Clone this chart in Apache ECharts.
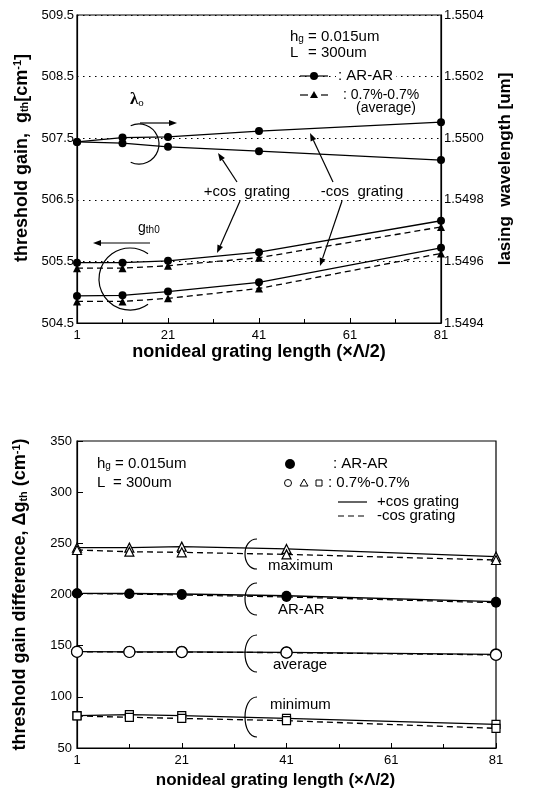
<!DOCTYPE html>
<html><head><meta charset="utf-8">
<script src="https://cdn.jsdelivr.net/npm/echarts@6/dist/echarts.min.js"></script>
<style>html,body{margin:0;padding:0;background:#fff}#c{width:547px;height:792px}</style>
</head><body><div id="c"></div>
<script>
// ---------- data ----------
const xs = [1, 11, 21, 41, 81];
// top panel: threshold gain g_th (cm^-1)
const gainPlusAR  = [505.48, 505.48, 505.51, 505.65, 506.16];
const gainPlus07  = [505.39, 505.39, 505.43, 505.56, 506.06];
const gainMinusAR = [504.94, 504.95, 505.01, 505.16, 505.72];
const gainMinus07 = [504.85, 504.85, 504.90, 505.06, 505.63];
// top panel: lasing wavelength (um)
const lambdaMinusCos = [1.549988, 1.550002, 1.550004, 1.550023, 1.550052];
const lambdaPlusCos  = [1.549988, 1.549984, 1.549972, 1.549958, 1.549929];
// bottom panel: threshold gain difference (cm^-1)
const maxPlus  = [245.8, 245.8, 246.8, 244.5, 237.0];
const maxMinus = [243.5, 241.8, 241.2, 239.2, 233.7];
const arPlus   = [201.1, 201.0, 200.5, 198.8, 193.0];
const arMinus  = [201.0, 200.5, 199.5, 197.6, 192.0];
const avgPlus  = [144.1, 144.0, 144.0, 143.5, 141.5];
const avgMinus = [144.0, 143.8, 143.7, 143.2, 141.0];
const minPlus  = [81.6, 82.6, 81.6, 79.0, 73.0];
const minMinus = [81.3, 80.0, 78.9, 76.7, 69.2];
// axis ranges / tick labels
const xRange = [1, 81, 20];
const gainRange = [504.5, 509.5, 1];
const lambdaRange = [1.5494, 1.5504, 0.0002];
const diffRange = [50, 350, 50];

// ---------- helpers ----------
const FONT = '"Liberation Sans", Arial, Helvetica, sans-serif';
const pair = v => xs.map((x, i) => [x, v[i]]);
function txt(x, y, text, size, extra) {
  return {type: 'text', x: x, y: y, z: 100, style: Object.assign({
    text: text, font: size + 'px ' + FONT, fill: '#000',
    textAlign: 'left', textVerticalAlign: 'middle', align: 'left', verticalAlign: 'middle'
  }, extra || {})};
}
function ln(x1, y1, x2, y2, dash) {
  return {type: 'line', z: 100, shape: {x1, y1, x2, y2},
    style: {stroke: '#000', lineWidth: 1.2, lineDash: dash || null}};
}
function arrow(x1, y1, x2, y2) {
  const a = Math.atan2(y2 - y1, x2 - x1), L = 8, W = 3;
  const bx = x2 - L * Math.cos(a), by = y2 - L * Math.sin(a);
  const px = -Math.sin(a) * W, py = Math.cos(a) * W;
  return [ln(x1, y1, bx, by), {type: 'polygon', z: 100,
    shape: {points: [[x2, y2], [bx + px, by + py], [bx - px, by - py]]}, style: {fill: '#000'}}];
}
function brace(xr, yt, yb) {
  return {type: 'bezierCurve', z: 100,
    shape: {x1: xr, y1: yt, x2: xr, y2: yb, cpx1: xr - 16, cpy1: yt, cpx2: xr - 16, cpy2: yb},
    style: {stroke: '#000', lineWidth: 1.2, fill: null}};
}
const subRich = {s: {fontSize: 10, fontFamily: FONT, verticalAlign: 'bottom', lineHeight: 8}};

function ser(name, g, yi, data, symbol, size, dashed, open) {
  return {
    name: name, type: 'line', xAxisIndex: g, yAxisIndex: yi, data: pair(data),
    symbol: symbol, symbolSize: size, showSymbol: true,
    lineStyle: {color: '#000', width: 1.3, type: dashed ? [6, 4] : 'solid'},
    itemStyle: open ? {color: '#fff', borderColor: '#000', borderWidth: 1.2} : {color: '#000', borderColor: '#000', borderWidth: 0},
    animation: false, z: 3
  };
}

const axisTitleStyle = {color: '#000', fontWeight: 'bold', fontSize: 18, fontFamily: FONT,
  rich: {sub: {fontSize: 11, fontWeight: 'bold', fontFamily: FONT, verticalAlign: 'bottom', lineHeight: 10},
         sup: {fontSize: 11, fontWeight: 'bold', fontFamily: FONT, verticalAlign: 'top', lineHeight: 10}}};
const lblStyle = {color: '#000', fontSize: 13, fontFamily: FONT};
function xAx(gi, gap) {
  return {gridIndex: gi, type: 'value', min: xRange[0], max: xRange[1], interval: xRange[2],
    axisLine: {lineStyle: {color: '#000', width: 1.2}},
    axisTick: {inside: true, length: 5, lineStyle: {color: '#000'}},
    minorTick: {show: true, splitNumber: 2, length: 4, lineStyle: {color: '#000'}},
    splitLine: {show: false},
    axisLabel: Object.assign({margin: 6}, lblStyle),
    name: 'nonideal grating length (\u00d7\u039b/2)', nameLocation: 'middle', nameGap: gap,
    nameTextStyle: {color: '#000', fontWeight: 'bold', fontSize: gi === 0 ? 18 : 17, fontFamily: FONT,
      padding: gi === 0 ? [0, 0, 0, 0] : [0, 22, 0, 0]}};
}

const option = {
  backgroundColor: '#fff',
  animation: false,
  grid: [
    {left: 77, top: 15, width: 364, height: 308, show: true, borderColor: '#000', borderWidth: 1.2, backgroundColor: 'transparent'},
    {left: 77, top: 441, width: 419, height: 307, show: true, borderColor: '#000', borderWidth: 1.2, backgroundColor: 'transparent'}
  ],
  xAxis: [xAx(0, 20), xAx(1, 24)],
  yAxis: [
    {gridIndex: 0, type: 'value', position: 'left', min: gainRange[0], max: gainRange[1], interval: gainRange[2],
     axisLine: {show: true, lineStyle: {color: '#000', width: 1.2}}, axisTick: {show: false},
     splitLine: {show: true, lineStyle: {color: '#000', width: 1, type: [1.5, 4.5]}},
     axisLabel: Object.assign({margin: 3, formatter: v => v.toFixed(1)}, lblStyle),
     name: 'threshold gain,  g{sub|th}[cm{sup|-1}]', nameLocation: 'middle', nameRotate: 90, nameGap: 45,
     nameTextStyle: Object.assign({padding: [0, 0, 0, 22]}, axisTitleStyle)},
    {gridIndex: 0, type: 'value', position: 'right', min: lambdaRange[0], max: lambdaRange[1], interval: lambdaRange[2],
     axisLine: {show: true, lineStyle: {color: '#000', width: 1.2}}, axisTick: {show: false},
     splitLine: {show: false},
     axisLabel: Object.assign({margin: 3, formatter: v => v.toFixed(4)}, lblStyle),
     name: 'lasing  wavelength [um]', nameLocation: 'middle', nameRotate: 90, nameGap: 56,
     nameTextStyle: {color: '#000', fontWeight: 'bold', fontSize: 17, fontFamily: FONT}},
    {gridIndex: 1, type: 'value', position: 'left', min: diffRange[0], max: diffRange[1], interval: diffRange[2],
     axisLine: {show: true, lineStyle: {color: '#000', width: 1.2}},
     axisTick: {show: true, inside: true, length: 6, lineStyle: {color: '#000'}},
     splitLine: {show: false},
     axisLabel: Object.assign({margin: 5}, lblStyle),
     name: 'threshold gain difference, \u0394g{sub|th} (cm{sup|-1})', nameLocation: 'middle', nameRotate: 90, nameGap: 48,
     nameTextStyle: axisTitleStyle}
  ],
  series: [
    ser('lambda -cos AR-AR', 0, 1, lambdaMinusCos, 'circle', 8, false, false),
    ser('lambda +cos AR-AR', 0, 1, lambdaPlusCos, 'circle', 8, false, false),
    ser('gth +cos AR-AR', 0, 0, gainPlusAR, 'circle', 8, false, false),
    ser('gth +cos 0.7%', 0, 0, gainPlus07, 'triangle', 8, true, false),
    ser('gth -cos AR-AR', 0, 0, gainMinusAR, 'circle', 8, false, false),
    ser('gth -cos 0.7%', 0, 0, gainMinus07, 'triangle', 8, true, false),
    ser('max +cos', 1, 2, maxPlus, 'triangle', 9, false, true),
    ser('max -cos', 1, 2, maxMinus, 'triangle', 9, true, true),
    ser('AR-AR +cos', 1, 2, arPlus, 'circle', 10, false, false),
    ser('AR-AR -cos', 1, 2, arMinus, 'circle', 10, true, false),
    ser('average +cos', 1, 2, avgPlus, 'circle', 11, false, true),
    ser('average -cos', 1, 2, avgMinus, 'circle', 11, true, true),
    ser('minimum +cos', 1, 2, minPlus, 'rect', 8, false, true),
    ser('minimum -cos', 1, 2, minMinus, 'rect', 8, true, true)
  ],
  graphic: [].concat(
    // ----- top panel annotations -----
    [txt(290, 37, 'h{s|g} = 0.015um', 15, {rich: subRich}),
     txt(290, 53, 'L', 15), txt(308, 53, '= 300um', 15),
     ln(300, 76, 328, 76),
     {type: 'circle', z: 100, shape: {cx: 314, cy: 76, r: 4}, style: {fill: '#000'}},
     txt(336, 76, ': AR-AR', 15, {backgroundColor: '#fff', padding: [0, 3, 0, 2]}),
     ln(300, 95, 308, 95), ln(321, 95, 328, 95),
     {type: 'polygon', z: 100, shape: {points: [[314, 91], [310, 98], [318, 98]]}, style: {fill: '#000'}},
     txt(343, 95, ': 0.7%-0.7%', 14),
     txt(356, 108, '(average)', 14),
     txt(130, 100, '\u03bb{o|o}', 17, {font: 'bold 17px "Liberation Serif", "DejaVu Serif", serif',
        rich: {o: {fontSize: 11, fontFamily: '"Liberation Serif", serif', verticalAlign: 'bottom', lineHeight: 8}}}),
     {type: 'arc', z: 100, shape: {cx: 139, cy: 144, r: 20, startAngle: -2.0, endAngle: 2.0, clockwise: true},
      style: {stroke: '#000', lineWidth: 1.2, fill: null}},
     txt(138, 228, 'g{s|th0}', 14, {rich: subRich}),
     {type: 'arc', z: 100, shape: {cx: 130, cy: 279, r: 31, startAngle: 0.95, endAngle: 2 * Math.PI - 0.95, clockwise: true},
      style: {stroke: '#000', lineWidth: 1.2, fill: null}},
     txt(247, 192, '+cos  grating', 15, {textAlign: 'center', align: 'center'}),
     txt(362, 192, '-cos  grating', 15, {textAlign: 'center', align: 'center'})],
    arrow(140, 123, 177, 123),
    arrow(150, 243, 93, 243),
    arrow(237, 182, 218, 153),
    arrow(240, 201, 217, 253),
    arrow(333, 182, 310, 133),
    arrow(342, 201, 320, 266),
    // ----- bottom panel annotations -----
    [txt(97, 464, 'h{s|g} = 0.015um', 15, {rich: {s: {fontSize: 10, fontFamily: FONT, verticalAlign: 'bottom', lineHeight: 8}}}),
     txt(97, 483, 'L', 15), txt(113, 483, '= 300um', 15),
     {type: 'circle', z: 100, shape: {cx: 290, cy: 464, r: 5}, style: {fill: '#000'}},
     txt(333, 464, ': AR-AR', 15),
     {type: 'circle', z: 100, shape: {cx: 288, cy: 483, r: 3.5}, style: {fill: '#fff', stroke: '#000', lineWidth: 1}},
     {type: 'polygon', z: 100, shape: {points: [[304, 479], [300, 486], [308, 486]]}, style: {fill: '#fff', stroke: '#000', lineWidth: 1}},
     {type: 'rect', z: 100, shape: {x: 316, y: 480, width: 6, height: 6}, style: {fill: '#fff', stroke: '#000', lineWidth: 1}},
     txt(328, 483, ': 0.7%-0.7%', 15),
     ln(338, 502, 367, 502), txt(377, 502, '+cos grating', 15),
     ln(338, 516, 367, 516, [6, 4]), txt(377, 516, '-cos grating', 15),
     brace(257, 539, 569), txt(268, 566, 'maximum', 15),
     brace(257, 583, 615), txt(278, 610, 'AR-AR', 15),
     brace(257, 635, 672), txt(273, 665, 'average', 15),
     brace(257, 697, 737), txt(270, 705, 'minimum', 15)]
  )
};
const chart = echarts.init(document.getElementById('c'), null, {renderer: 'canvas'});
chart.setOption(option);
</script></body></html>
